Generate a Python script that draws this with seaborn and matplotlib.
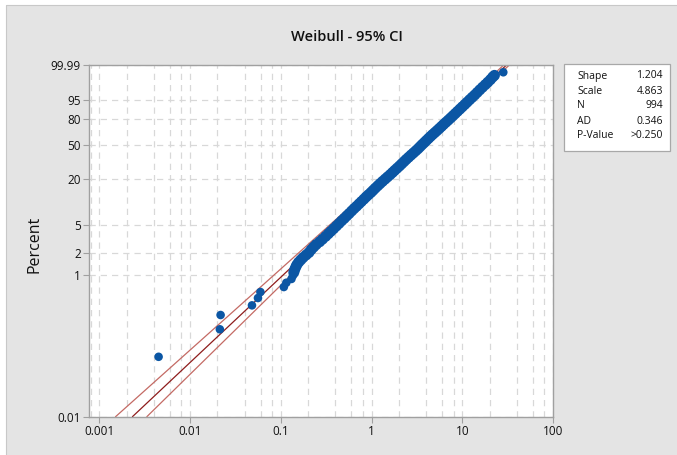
import numpy as np
import matplotlib
matplotlib.use("Agg")
import matplotlib.pyplot as plt
import matplotlib.ticker as mticker
from matplotlib.patches import Rectangle
import seaborn as sns

# failure times and plotting percents
fail_time = [0.0045, 0.0213, 0.0217, 0.0481, 0.0560, 0.0596, 0.108, 0.115, 0.131, 0.136,
             0.139, 0.142, 0.146, 0.150, 0.157, 0.166, 0.176, 0.190, 0.204, 0.216,
             0.230, 0.245, 0.268, 0.288, 0.312, 0.334, 0.356, 0.382, 0.410, 0.438,
             0.468, 0.500, 0.533, 0.566, 0.604, 0.642, 0.683, 0.728, 0.772, 0.823,
             0.872, 0.925, 0.985, 1.04, 1.10, 1.17, 1.24, 1.32, 1.41, 1.50,
             1.60, 1.70, 1.80, 1.91, 2.03, 2.15, 2.28, 2.41, 2.56, 2.72,
             2.89, 3.07, 3.25, 3.42, 3.60, 3.80, 4.00, 4.22, 4.45, 4.70,
             4.98, 5.27, 5.57, 5.89, 6.22, 6.60, 7.00, 7.43, 7.88, 8.35,
             8.86, 9.42, 10.0, 10.65, 11.3, 12.05, 12.85, 13.7, 14.6, 15.6,
             16.7, 17.9, 19.1, 20.4, 21.6, 22.6, 28.3]
percent = [0.070, 0.171, 0.272, 0.372, 0.472, 0.573, 0.674, 0.774, 0.875, 0.975,
           1.08, 1.18, 1.28, 1.38, 1.50, 1.62, 1.75, 1.90, 2.05, 2.25,
           2.45, 2.65, 2.90, 3.15, 3.45, 3.75, 4.05, 4.40, 4.80, 5.20,
           5.65, 6.10, 6.60, 7.10, 7.70, 8.30, 8.90, 9.60, 10.3, 11.1,
           11.9, 12.7, 13.6, 14.5, 15.5, 16.6, 17.7, 18.9, 20.2, 21.5,
           22.9, 24.4, 25.9, 27.5, 29.2, 31.0, 32.9, 34.8, 36.8, 38.9,
           41.0, 43.2, 45.4, 47.6, 49.9, 52.2, 54.5, 56.9, 59.3, 61.7,
           64.1, 66.5, 68.9, 71.3, 73.7, 76.1, 78.4, 80.7, 82.9, 85.0,
           87.0, 88.9, 90.6, 92.2, 93.6, 94.9, 96.0, 96.9, 97.7, 98.35,
           98.85, 99.22, 99.48, 99.67, 99.80, 99.86, 99.93]
n_tail = 10  # isolated points at the low end

# fitted line and 95% CI lines
fit_time = [0.002316, 30.74]
fit_pct = [0.01, 99.99]
ci_pct = [0.01, 1, 10, 50, 99.99]
ci_low_time = [0.00151, 0.0846, 0.653, 3.31, 28.6]
ci_high_time = [0.00334, 0.131, 0.841, 3.84, 33.0]

y_ticks = [0.01, 1, 2, 5, 20, 50, 80, 95, 99.99]
y_labels = ["0.01", "1", "2", "5", "20", "50", "80", "95", "99.99"]
x_ticks = [0.001, 0.01, 0.1, 1, 10, 100]
x_labels = ["0.001", "0.01", "0.1", "1", "10", "100"]

stat_names = ["Shape", "Scale", "N", "AD", "P-Value"]
stat_values = ["1.204", "4.863", "994", "0.346", ">0.250"]


def weib_fwd(p):
    p = np.clip(np.asarray(p, dtype=float), 1e-9, 100 - 1e-9)
    return np.log(-np.log(1 - p / 100.0))


def weib_inv(t):
    return 100.0 * (1 - np.exp(-np.exp(np.asarray(t, dtype=float))))


sns.set_style("white")
plt.rcParams["font.family"] = ["Open Sans", "DejaVu Sans"]
plt.rcParams["text.color"] = "#111111"

bg = "#e4e4e4"
fig = plt.figure(figsize=(6.77, 4.55), dpi=100, facecolor=bg)
ax = fig.add_axes([0.1315, 0.0842, 0.6854, 0.773])
ax.set_facecolor("white")

ax.set_xscale("log")
ax.set_yscale("function", functions=(weib_fwd, weib_inv))
ax.set_xlim(0.00077, 100)
ax.set_ylim(0.01, 99.99)

# grid
ax.set_xticks(x_ticks)
ax.set_xticklabels(x_labels)
ax.xaxis.set_minor_locator(mticker.LogLocator(base=10, subs=[2, 4, 6, 8]))
ax.xaxis.set_minor_formatter(mticker.NullFormatter())
ax.set_yticks(y_ticks)
ax.set_yticklabels(y_labels)
ax.yaxis.set_minor_locator(mticker.NullLocator())
grid_kw = dict(color="#d8d8d8", linestyle=(0, (5, 4)), linewidth=0.9)
ax.grid(True, which="major", **grid_kw)
ax.xaxis.grid(True, which="minor", **grid_kw)
ax.set_axisbelow(True)

ax.tick_params(axis="both", which="major", direction="out", length=4, width=0.8,
               color="#a0a0a0", labelsize=8.5, pad=2, bottom=True, left=True,
               labelcolor="#111111")
ax.tick_params(axis="x", which="minor", length=0)
for s in ax.spines.values():
    s.set_color("#a0a0a0")
    s.set_linewidth(1.0)

# fitted line and CI
sns.lineplot(x=ci_low_time, y=ci_pct, ax=ax, color="#c46a64", linewidth=0.9,
             sort=False, estimator=None)
sns.lineplot(x=ci_high_time, y=ci_pct, ax=ax, color="#c46a64", linewidth=0.9,
             sort=False, estimator=None)
sns.lineplot(x=fit_time, y=fit_pct, ax=ax, color="#8e1c1c", linewidth=0.9,
             sort=False, estimator=None)

# data points: isolated tail, then the dense band of overlapping points
sns.scatterplot(x=fail_time[:n_tail], y=percent[:n_tail], ax=ax, color="#0b56a4",
                s=38, edgecolor="none", linewidth=0, zorder=5)
sns.scatterplot(x=fail_time[n_tail:-1], y=percent[n_tail:-1], ax=ax, color="#0b56a4",
                s=62, edgecolor="none", linewidth=0, zorder=5)
sns.scatterplot(x=fail_time[-1:], y=percent[-1:], ax=ax, color="#0b56a4",
                s=38, edgecolor="none", linewidth=0, zorder=5)

ax.set_xlabel("")
ax.set_ylabel("Percent", fontsize=11.5, color="#111111")
ax.yaxis.set_label_coords(-0.10, 0.49)

fig.text(0.512, 0.919, "Weibull - 95% CI", ha="center", va="center",
         fontsize=10.5, fontweight="semibold")

# stats box
fig.patches.append(Rectangle((564 / 677, 1 - 151 / 455), 106 / 677, 87 / 455,
                             transform=fig.transFigure, facecolor="white",
                             edgecolor="#a8a8a8", linewidth=0.9))
row_y = [76, 91.3, 105.7, 121, 136]
for name, val, yy in zip(stat_names, stat_values, row_y):
    fig.text(577 / 677, 1 - yy / 455, name, ha="left", va="center", fontsize=7.5)
    fig.text(663 / 677, 1 - yy / 455, val, ha="right", va="center", fontsize=7.5)

# white page strip around the chart frame
fig.patches.append(Rectangle((0, 0), 6 / 677, 1, transform=fig.transFigure,
                             facecolor="white", edgecolor="none"))
fig.patches.append(Rectangle((0, 1 - 5 / 455), 1, 5 / 455, transform=fig.transFigure,
                             facecolor="white", edgecolor="none"))
fig.add_artist(plt.Line2D([6 / 677, 6 / 677], [0, 1 - 5 / 455], transform=fig.transFigure,
                          color="#c8c8c8", linewidth=0.8))
fig.add_artist(plt.Line2D([6 / 677, 1], [1 - 5 / 455, 1 - 5 / 455], transform=fig.transFigure,
                          color="#c8c8c8", linewidth=0.8))

fig.savefig("out.png", dpi=100, facecolor=bg)
